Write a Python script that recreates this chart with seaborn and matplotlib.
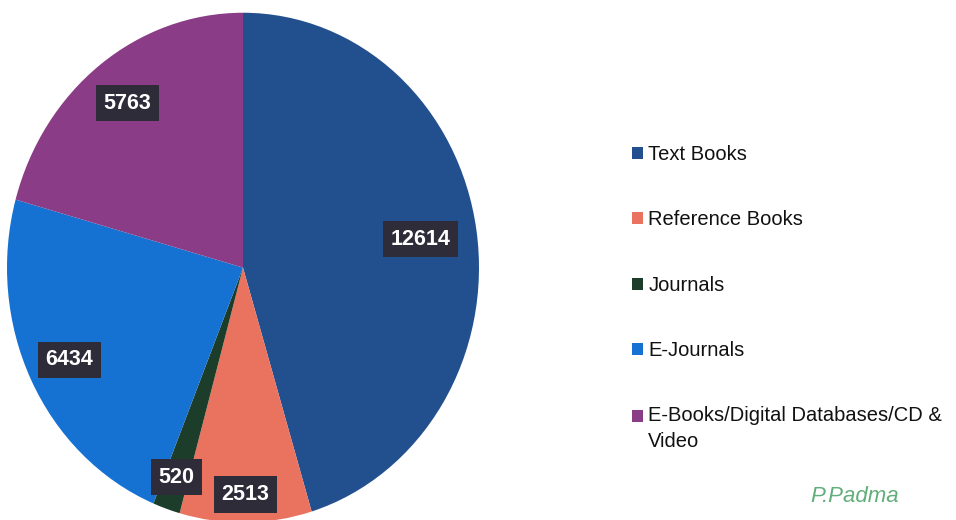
import numpy as np
import matplotlib
matplotlib.use("Agg")
import matplotlib.pyplot as plt
import seaborn as sns

# data
categories = ["Text Books", "Reference Books", "Journals", "E-Journals",
              "E-Books/Digital Databases/CD &\nVideo"]
counts = [12614, 2513, 520, 6434, 5763]
slice_colors = ["#22508f", "#ea735f", "#1d3d2b", "#1672d2", "#8b3c86"]
# how far out each value box sits (fraction of radius)
label_r = [0.76, 0.89, 0.87, 0.82, 0.81]

sns.set_theme(style="white")
plt.rcParams["font.family"] = ["Liberation Sans", "DejaVu Sans"]

fig = plt.figure(figsize=(9.56, 5.2), dpi=100)
fig.patch.set_facecolor("white")

# pie axes on the left half, slightly squashed like the photo
ax = fig.add_axes([0, 0, 500 / 956, 1])
wedges, _ = ax.pie(counts, colors=slice_colors, startangle=90,
                   counterclock=False, radius=1.0,
                   wedgeprops=dict(linewidth=0))
ax.set_aspect("auto")
ax.set_xlim(-243 / 236, (500 - 243) / 236)
ax.set_ylim(-0.99, 1.05)
ax.axis("off")

# value boxes
for w, val, r in zip(wedges, counts, label_r):
    mid = np.deg2rad((w.theta1 + w.theta2) / 2)
    ax.text(r * np.cos(mid), r * np.sin(mid), str(val),
            ha="center", va="center", color="white", fontsize=15.5,
            fontweight="bold",
            bbox=dict(boxstyle="square,pad=0.35", fc="#2f2c3a", ec="none"))

leg = fig.legend(wedges, categories, loc="upper left",
                 bbox_to_anchor=(624 / 956, 1 - 137 / 520),
                 frameon=False, fontsize=14.5, handlelength=0.55,
                 handleheight=0.55, handletextpad=0.25, labelspacing=2.3,
                 borderaxespad=0)
for t in leg.get_texts():
    t.set_color("#111111")
    t.set_linespacing(1.45)

# two-line entry: keep its marker beside the first line
last = leg.legend_handles[-1]
last.set_y(last.get_y() + 9.5)

# signature in the corner
fig.text(855 / 956, 1 - 497 / 520, "P.Padma", color="#3a9a5a",
         fontsize=16, style="italic", ha="center", va="center",
         alpha=0.8)

fig.savefig("out.png", dpi=100)
